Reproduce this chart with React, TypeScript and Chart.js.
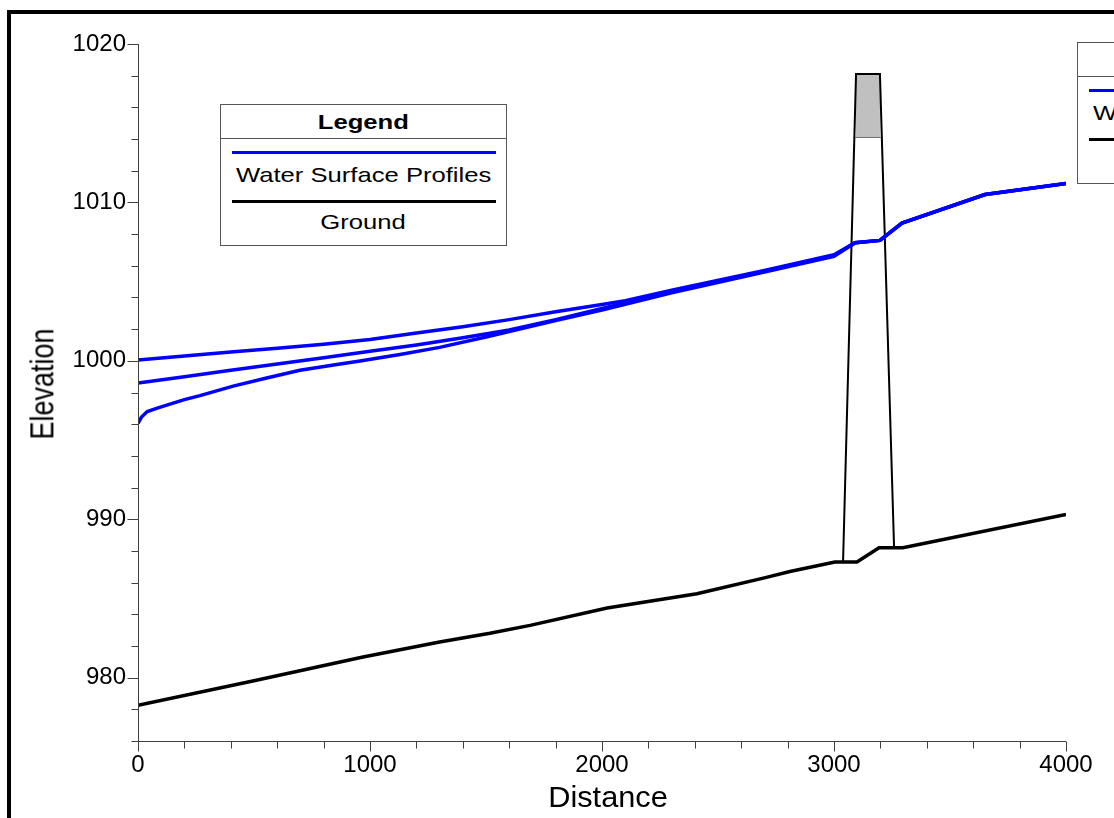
import React, { useEffect, useRef } from "react";
import { Chart, registerables } from "chart.js";

Chart.register(...registerables);

// ---- Data (distance, elevation) ----
const wsUpperX = [0, 200, 400, 600, 800, 1000, 1200, 1400, 1600, 1800, 2000, 2100, 2300, 2700, 3000, 3091, 3198, 3293, 3651, 4000];
const wsUpperY = [1000.05, 1000.3, 1000.55, 1000.8, 1001.05, 1001.35, 1001.75, 1002.15, 1002.6, 1003.1, 1003.55, 1003.8, 1004.45, 1005.7, 1006.7, 1007.45, 1007.6, 1008.7, 1010.5, 1011.2];

const wsMiddleX = [0, 200, 400, 600, 800, 1000, 1200, 1400, 1600, 1800, 2000, 2300, 2700, 3000, 3091, 3198, 3293, 3651, 4000];
const wsMiddleY = [998.6, 999.0, 999.4, 999.8, 1000.2, 1000.6, 1001.0, 1001.45, 1001.95, 1002.6, 1003.3, 1004.35, 1005.65, 1006.65, 1007.45, 1007.6, 1008.7, 1010.5, 1011.2];

const wsLowerX = [0, 15, 40, 80, 124, 200, 267, 410, 550, 698, 850, 957, 1129, 1300, 1500, 1700, 1800, 2000, 2300, 2700, 3000, 3091, 3198, 3293, 3651, 4000];
const wsLowerY = [996.05, 996.45, 996.8, 997.0, 997.2, 997.55, 997.8, 998.4, 998.9, 999.4, 999.75, 999.99, 1000.4, 1000.85, 1001.5, 1002.2, 1002.55, 1003.2, 1004.3, 1005.6, 1006.6, 1007.45, 1007.6, 1008.7, 1010.5, 1011.2];

const groundX = [0, 500, 970, 1300, 1517, 1690, 2022, 2409, 2700, 2810, 3004, 3099, 3194, 3297, 4000];
const groundY = [978.25, 979.8, 981.3, 982.25, 982.8, 983.3, 984.4, 985.3, 986.3, 986.7, 987.3, 987.3, 988.2, 988.2, 990.3];

const bridgeX = [3039, 3095, 3198, 3259];
const bridgeY = [987.3, 1018.1, 1018.1, 988.2];

const deckTopX = [3095, 3198];
const deckTopY = [1018.1, 1018.1];
const deckLowX = [3092, 3201];
const deckLowY = [1014.1, 1014.1];
const deckBottom = 1014.1;

const xTickLabels = [0, 1000, 2000, 3000, 4000];
const yTickLabels = [980, 990, 1000, 1010, 1020];

const FONT = "'Liberation Sans', Arial, sans-serif";

const pts = (xs: number[], ys: number[]) => xs.map((x, i) => ({ x, y: ys[i] }));

const axisPlugin = {
  id: "axisTicks",
  afterDraw(chart: any) {
    const { ctx, chartArea, scales } = chart;
    const { left, right, top, bottom } = chartArea;
    const xs = scales.x;
    const ys = scales.y;
    ctx.save();
    ctx.strokeStyle = "#404040";
    ctx.lineWidth = 1;
    ctx.beginPath();
    const lx = Math.round(left) + 0.5;
    const by = Math.round(bottom) + 0.5;
    ctx.moveTo(lx, top);
    ctx.lineTo(lx, by);
    ctx.lineTo(right, by);
    for (let v = xs.min; v <= xs.max + 0.001; v += 200) {
      const px = Math.round(xs.getPixelForValue(v)) + 0.5;
      const len = Math.abs(v % 1000) < 0.001 ? 10 : 7;
      ctx.moveTo(px, by);
      ctx.lineTo(px, by + len);
    }
    for (let v = ys.min; v <= ys.max + 0.001; v += 2) {
      const py = Math.round(ys.getPixelForValue(v)) + 0.5;
      const len = Math.abs(v % 10) < 0.001 ? 11 : 7;
      ctx.moveTo(lx, py);
      ctx.lineTo(lx - len, py);
    }
    ctx.stroke();
    ctx.restore();
  },
};

function LegendBox({ left, top }: { left: number; top: number }) {
  const txt = (s: string, bold = false) => (
    <span style={{ display: "inline-block", transform: "scaleX(1.22)", fontWeight: bold ? "bold" : "normal" }}>{s}</span>
  );
  return (
    <div
      style={{
        position: "absolute",
        left,
        top,
        width: 285,
        height: 140,
        border: "1px solid #555",
        background: "#fff",
        fontFamily: FONT,
        fontSize: 21,
        color: "#000",
      }}
    >
      <div
        style={{
          position: "absolute",
          left: 0,
          right: 0,
          top: 0,
          height: 33,
          borderBottom: "1px solid #555",
          textAlign: "center",
          lineHeight: "33px",
        }}
      >
        {txt("Legend", true)}
      </div>
      <div style={{ position: "absolute", left: 11, width: 264, top: 46, height: 3, background: "#0000ff" }} />
      <div style={{ position: "absolute", left: 0, right: 0, top: 56, height: 28, lineHeight: "28px", textAlign: "center" }}>
        {txt("Water Surface Profiles")}
      </div>
      <div style={{ position: "absolute", left: 11, width: 264, top: 95, height: 3, background: "#000" }} />
      <div style={{ position: "absolute", left: 0, right: 0, top: 103, height: 28, lineHeight: "28px", textAlign: "center" }}>
        {txt("Ground")}
      </div>
    </div>
  );
}

export default function App() {
  const canvasRef = useRef<HTMLCanvasElement | null>(null);

  useEffect(() => {
    if (!canvasRef.current) return;
    const chart = new Chart(canvasRef.current, {
      type: "scatter",
      data: {
        datasets: [
          { label: "WS upper", data: pts(wsUpperX, wsUpperY), showLine: true, borderColor: "#0000ff", borderWidth: 3.5, pointRadius: 0, tension: 0 },
          { label: "WS middle", data: pts(wsMiddleX, wsMiddleY), showLine: true, borderColor: "#0000ff", borderWidth: 3.5, pointRadius: 0, tension: 0 },
          { label: "WS lower", data: pts(wsLowerX, wsLowerY), showLine: true, borderColor: "#0000ff", borderWidth: 3.5, pointRadius: 0, tension: 0 },
          { label: "Ground", data: pts(groundX, groundY), showLine: true, borderColor: "#000000", borderWidth: 3.5, pointRadius: 0, tension: 0 },
          { label: "Bridge", data: pts(bridgeX, bridgeY), showLine: true, borderColor: "#000000", borderWidth: 2, pointRadius: 0, tension: 0 },
          { label: "Deck low chord", data: pts(deckLowX, deckLowY), showLine: true, borderColor: "#707070", borderWidth: 1, pointRadius: 0, tension: 0 },
          {
            label: "Deck",
            data: pts(deckTopX, deckTopY),
            showLine: true,
            borderWidth: 0,
            borderColor: "rgba(0,0,0,0)",
            backgroundColor: "#c0c0c0",
            fill: { value: deckBottom },
            pointRadius: 0,
            tension: 0,
          },
        ],
      },
      options: {
        animation: false,
        responsive: true,
        maintainAspectRatio: false,
        layout: { padding: { left: 0, right: 48, top: 44, bottom: 0 } },
        plugins: { legend: { display: false }, tooltip: { enabled: false } },
        scales: {
          x: {
            type: "linear",
            min: 0,
            max: 4000,
            grid: { display: false, drawTicks: false },
            border: { display: false },
            afterBuildTicks: (s: any) => {
              s.ticks = xTickLabels.map((v) => ({ value: v }));
            },
            afterFit: (s: any) => {
              s.height = 77;
            },
            ticks: {
              color: "#000",
              font: { family: FONT, size: 24 },
              padding: 10,
              maxRotation: 0,
              autoSkip: false,
              callback: (v: any) => String(v),
            },
          },
          y: {
            type: "linear",
            min: 976,
            max: 1020,
            grid: { display: false, drawTicks: false },
            border: { display: false },
            afterBuildTicks: (s: any) => {
              s.ticks = yTickLabels.map((v) => ({ value: v }));
            },
            afterFit: (s: any) => {
              s.width = 138;
            },
            ticks: {
              color: "#000",
              font: { family: FONT, size: 24 },
              padding: 12,
              autoSkip: false,
              callback: (v: any) => String(v),
            },
          },
        },
      },
      plugins: [axisPlugin],
    });
    return () => chart.destroy();
  }, []);

  return (
    <div style={{ position: "fixed", left: 0, top: 0, width: 1114, height: 818, overflow: "hidden", background: "#fff" }}>
      <div style={{ position: "absolute", left: 7, top: 10, width: 1300, height: 1000, border: "4px solid #000" }} />
      <div style={{ position: "absolute", left: 0, top: 0, width: 1114, height: 818 }}>
        <canvas ref={canvasRef} />
      </div>
      <LegendBox left={220} top={104} />
      <LegendBox left={1077} top={42} />
      <div
        style={{
          position: "absolute",
          left: 43,
          top: 384,
          transform: "translate(-50%, -50%) rotate(-90deg) scaleY(1.2)",
          fontFamily: FONT,
          fontSize: 27,
          lineHeight: "27px",
          whiteSpace: "nowrap",
          color: "#000",
        }}
      >
        Elevation
      </div>
      <div
        style={{
          position: "absolute",
          left: 608,
          top: 796.5,
          transform: "translate(-50%, -50%) scaleX(1.06)",
          fontFamily: FONT,
          fontSize: 29,
          lineHeight: "29px",
          whiteSpace: "nowrap",
          color: "#000",
        }}
      >
        Distance
      </div>
    </div>
  );
}
